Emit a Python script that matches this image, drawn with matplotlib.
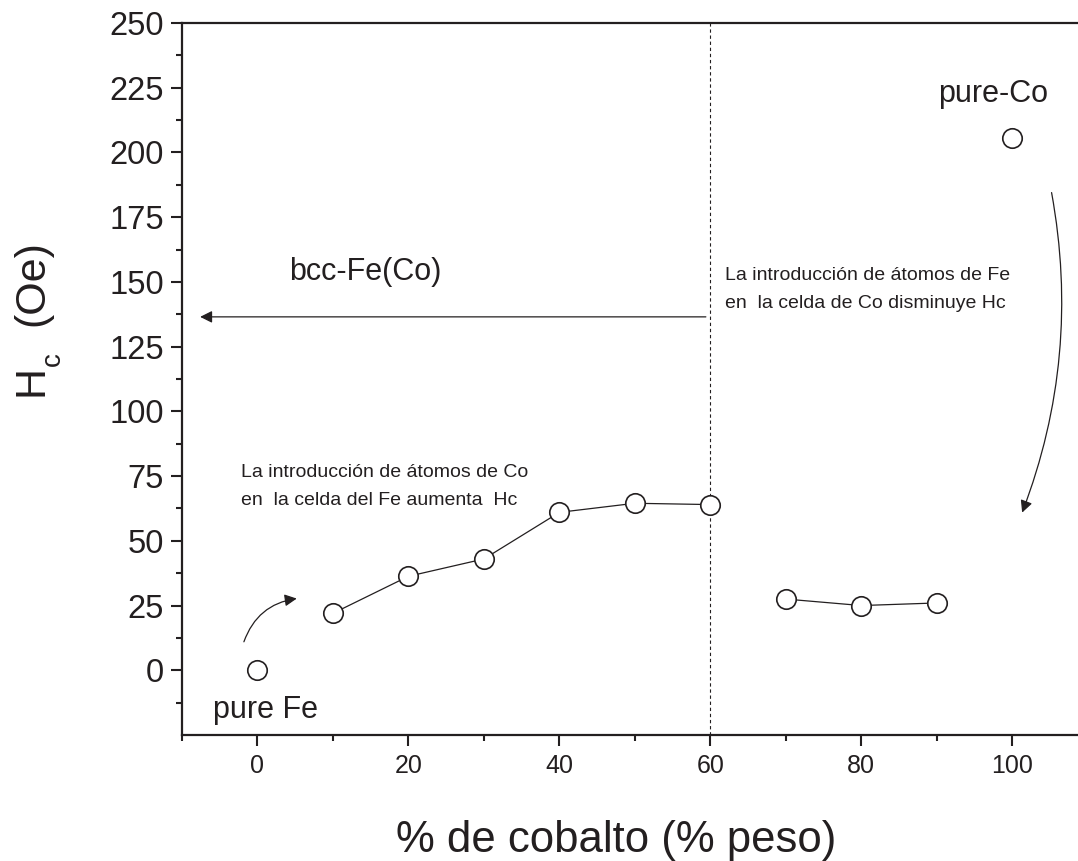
import matplotlib
matplotlib.use("Agg")
import matplotlib.pyplot as plt

plt.rcParams['font.family'] = ['Liberation Sans', 'DejaVu Sans']

# data
cobalt_left = [10, 20, 30, 40, 50, 60]
hc_left = [22, 36.3, 43, 61, 64.5, 64]
cobalt_right = [70, 80, 90]
hc_right = [27.5, 25, 26]
cobalt_pure = [0, 100]
hc_pure = [0, 205.5]

xticks = [0, 20, 40, 60, 80, 100]
yticks = [0, 25, 50, 75, 100, 125, 150, 175, 200, 225, 250]

INK = '#231f20'
W, H = 1078, 861

fig = plt.figure(figsize=(W/100, H/100), dpi=100)
ax = fig.add_axes([182/W, 1-735/H, 1-182/W, (735-23)/H])

mk = dict(marker='o', markersize=14, markerfacecolor='white',
          markeredgecolor=INK, markeredgewidth=1.2, color=INK, lw=0.9)
ax.plot(cobalt_left, hc_left, **mk)
ax.plot(cobalt_right, hc_right, **mk)
ax.plot(cobalt_pure, hc_pure, ls='none', **mk)

ax.set_xlim(-10, 108.7)
ax.set_ylim(-25, 250)

ax.axvline(60, color=INK, lw=0.8, ls=(0, (3, 2.5)), zorder=1)

# horizontal arrow
ax.annotate('', xy=(-7.6, 136.5), xytext=(59.4, 136.5),
            arrowprops=dict(arrowstyle='-|>', color=INK, lw=0.9,
                            mutation_scale=18, shrinkA=0, shrinkB=0))
# curved arrows
ax.annotate('', xy=(101.3, 60.9), xytext=(105.2, 184.5),
            arrowprops=dict(arrowstyle='-|>', color=INK, lw=0.9,
                            mutation_scale=18, shrinkA=0, shrinkB=0,
                            connectionstyle='arc3,rad=-0.14'))
ax.annotate('', xy=(5.2, 27.7), xytext=(-1.8, 11),
            arrowprops=dict(arrowstyle='-|>', color=INK, lw=0.9,
                            mutation_scale=18, shrinkA=0, shrinkB=0,
                            connectionstyle='arc3,rad=-0.3'))

ax.text(14.3, 154, 'bcc-Fe(Co)', fontsize=22, color=INK, ha='center', va='center')
ax.text(97.4, 219.3, 'pure-Co', fontsize=22, color=INK, ha='center', va='baseline')
ax.text(1.06, -18.3, 'pure Fe', fontsize=22, color=INK, ha='center', va='baseline')

ax.text(-2.25, 74.8, 'La introducción de átomos de Co', fontsize=14, color=INK,
        ha='left', va='baseline')
ax.text(-2.25, 64.0, 'en  la celda del Fe aumenta  Hc', fontsize=14, color=INK,
        ha='left', va='baseline')
ax.text(62.0, 150.9, 'La introducción de átomos de Fe', fontsize=14, color=INK,
        ha='left', va='baseline')
ax.text(62.0, 140.1, 'en  la celda de Co disminuye Hc', fontsize=14, color=INK,
        ha='left', va='baseline')

ax.set_xticks(xticks)
ax.set_xticks([-10, 10, 30, 50, 70, 90], minor=True)
ax.set_yticks(yticks)
ax.set_yticks([-12.5 + 25*i for i in range(11)], minor=True)
ax.tick_params(axis='both', which='major', direction='out', length=8, width=1.5, color=INK)
ax.tick_params(axis='both', which='minor', direction='out', length=4, width=1.5, color=INK)
ax.tick_params(axis='x', labelsize=18, pad=6, labelcolor=INK)
ax.tick_params(axis='y', labelsize=23.5, pad=5, labelcolor=INK)

for s in ['left', 'bottom', 'top']:
    ax.spines[s].set_linewidth(1.6)
    ax.spines[s].set_color(INK)
ax.spines['right'].set_visible(False)

# axis titles
fig.text(616/W, 1-852/H, '% de cobalto (% peso)', fontsize=31.5, color=INK,
         ha='center', va='baseline')
lab = dict(rotation=90, rotation_mode='anchor', ha='left', va='baseline', color=INK)
fig.text(43/W, 1-396/H, 'H', fontsize=31, **lab)
fig.text(60/W, 1-366/H, 'c', fontsize=20, **lab)
fig.text(43/W, 1-326/H, '(Oe)', fontsize=31, **lab)

fig.savefig('out.png', dpi=100)
